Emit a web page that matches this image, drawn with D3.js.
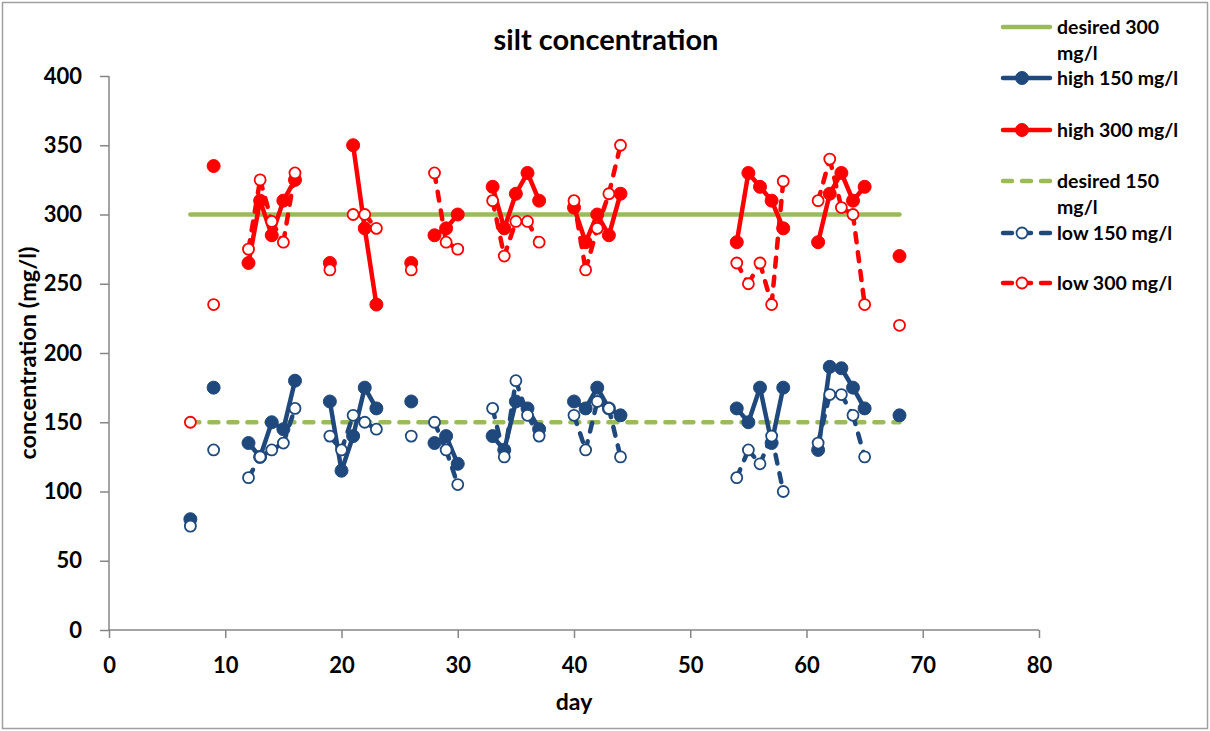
<!DOCTYPE html>
<html><head><meta charset="utf-8">
<script src="https://cdn.jsdelivr.net/npm/d3@7/dist/d3.min.js"></script>
<style>
body{margin:0;background:#fff;}
text{font-family:Lato,"Open Sans",sans-serif;font-weight:bold;fill:#000;}
</style></head>
<body>
<svg id="chart" width="1210" height="731"></svg>
<script>
// ---- data ----
const days = [7,9,12,13,14,15,16,19,20,21,22,23,26,28,29,30,33,34,35,36,37,40,41,42,43,44,54,55,56,57,58,61,62,63,64,65,68];
const high150 = [80,175,135,125,150,145,180,165,115,140,175,160,165,135,140,120,140,130,165,160,145,165,160,175,160,155,160,150,175,135,175,130,190,189,175,160,155];
const high300 = [null,335,265,310,285,310,325,265,null,350,290,235,265,285,290,300,320,290,315,330,310,305,280,300,285,315,280,330,320,310,290,280,315,330,310,320,270];
const low150  = [75,130,110,125,130,135,160,140,130,155,150,145,140,150,130,105,160,125,180,155,140,155,130,165,160,125,110,130,120,140,100,135,170,170,155,125,null];
const low300  = [150,235,275,325,295,280,330,260,null,300,300,290,260,330,280,275,310,270,295,295,280,310,260,290,315,350,265,250,265,235,324,310,340,305,300,235,220];
const desiredDays = [7,68];
const desired300 = [300,300];
const desired150 = [150,150];
const xTicks = [0,10,20,30,40,50,60,70,80];
const yTicks = [0,50,100,150,200,250,300,350,400];
const legendLabels = [["desired 300","mg/l"],["high 150 mg/l"],["high 300 mg/l"],["desired 150","mg/l"],["low 150 mg/l"],["low 300 mg/l"]];

const GREEN="#9BBB59", BLUE="#1F497D", RED="#FF0000", AXIS="#868686";
const svg = d3.select("#chart");
// outer border
svg.append("rect").attr("x",2.5).attr("y",2.5).attr("width",1205).attr("height",726)
  .attr("fill","none").attr("stroke","#A0A0A0").attr("stroke-width",1.5);

const x = d3.scaleLinear().domain([0,80]).range([109,1039]);
const y = d3.scaleLinear().domain([0,400]).range([630,76]);

// axes
const gx = svg.append("g").attr("transform","translate(0,630)")
  .call(d3.axisBottom(x).tickValues(xTicks).tickSize(8).tickPadding(19));
const gy = svg.append("g").attr("transform","translate(109,0)")
  .call(d3.axisLeft(y).tickValues(yTicks).tickSize(9).tickPadding(18));
[gx,gy].forEach(g=>{
  g.selectAll("path,line").attr("stroke",AXIS).attr("stroke-width",1.5);
  g.selectAll("text").style("font-size","22px").style("font-family","Lato,'Open Sans',sans-serif").style("font-weight","bold").attr("fill","#000");
});
gx.select(".domain").attr("d","M109,0H1039");
gy.select(".domain").attr("d","M0,76V630");

svg.append("text").attr("x",606).attr("y",50).attr("text-anchor","middle").style("font-size","29px").text("silt concentration");
svg.append("text").attr("x",574).attr("y",710).attr("text-anchor","middle").style("font-size","23px").text("day");
svg.append("text").attr("transform","translate(36,353) rotate(-90)").attr("text-anchor","middle").style("font-size","23.5px").text("concentration (mg/l)");

const plot = svg.append("g");
// desired lines
const dline = d3.line().x((d,i)=>x(desiredDays[i])).y(d=>y(d));
plot.append("path").datum(desired300).attr("d",dline).attr("fill","none").attr("stroke",GREEN).attr("stroke-width",4.5).attr("stroke-linecap","round");
plot.append("path").datum(desired150).attr("d",dline).attr("fill","none").attr("stroke",GREEN).attr("stroke-width",4.5).attr("stroke-linecap","round").attr("stroke-dasharray","9,10");

function series(vals,color,dashed,open){
  const pts = days.map((d,i)=>({d, v: vals[i], i}));
  // connect only consecutive days with data
  const segs=[];
  for(let k=0;k<pts.length-1;k++){
    const a=pts[k], b=pts[k+1];
    if(a.v!=null && b.v!=null && (b.d-a.d)===1) segs.push([a,b]);
  }
  const line = d3.line().x(p=>x(p.d)).y(p=>y(p.v));
  plot.append("g").selectAll("path").data(segs).join("path")
    .attr("d",line).attr("fill","none").attr("stroke",color).attr("stroke-width",4.5)
    .attr("stroke-linecap","round")
    .attr("stroke-dasharray",dashed?"9,10":null);
  plot.append("g").selectAll("circle").data(pts.filter(p=>p.v!=null)).join("circle")
    .attr("cx",p=>x(p.d)).attr("cy",p=>y(p.v))
    .attr("r",open?5.5:6.5)
    .attr("fill",open?"#fff":color).attr("stroke",color).attr("stroke-width",open?1.8:1);
}
series(high150,BLUE,false,false);
series(high300,RED,false,false);
series(low150,BLUE,true,true);
series(low300,RED,true,true);

// legend
const legY = [27,78,130,181,233,283];
const legStyle = [
  {c:GREEN,dash:null,m:null},
  {c:BLUE,dash:null,m:"filled"},
  {c:RED,dash:null,m:"filled"},
  {c:GREEN,dash:"9,10",m:null},
  {c:BLUE,dash:"9,10",m:"open"},
  {c:RED,dash:"9,10",m:"open"}
];
const lg = svg.append("g");
legendLabels.forEach((lab,i)=>{
  const s=legStyle[i], yy=legY[i];
  lg.append("line").attr("x1",1003).attr("x2",1050).attr("y1",yy).attr("y2",yy)
    .attr("stroke",s.c).attr("stroke-width",4.5).attr("stroke-dasharray",s.dash).attr("stroke-linecap","round");
  if(s.m){
    lg.append("circle").attr("cx",1022).attr("cy",yy).attr("r",s.m==="open"?5.5:6.5)
      .attr("fill",s.m==="open"?"#fff":s.c).attr("stroke",s.c).attr("stroke-width",s.m==="open"?1.8:1);
  }
  const t = lg.append("text").attr("x",1057).attr("y",legY[i]+7).style("font-size","19.5px");
  lab.forEach((l,j)=>t.append("tspan").attr("x",1057).attr("dy",j===0?0:26).text(l));
});
</script>
</body></html>
